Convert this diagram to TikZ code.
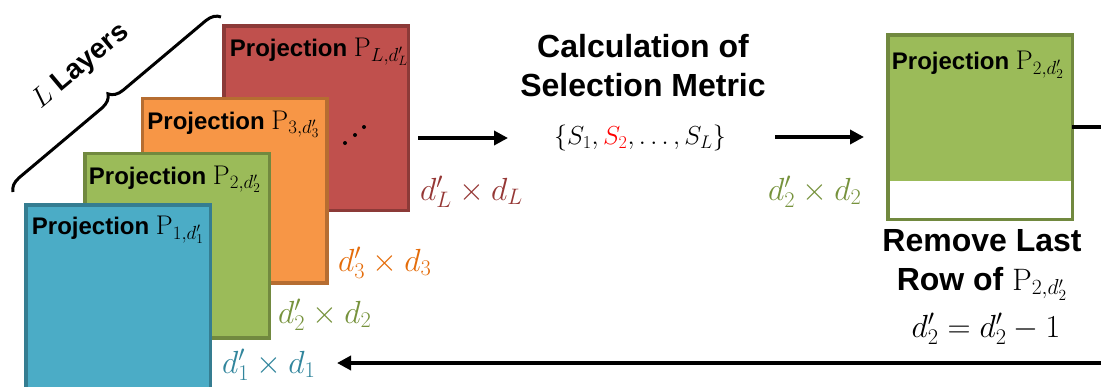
\RequirePackage{fix-cm}
\documentclass[tikz,border=0pt]{standalone}
\usepackage{fontspec}
\newfontfamily\arial{Liberation Sans}
\usetikzlibrary{arrows.meta,decorations.pathreplacing,calc}
\definecolor{bfill}{HTML}{4BACC6}\definecolor{bdraw}{HTML}{357D91}\definecolor{btxt}{HTML}{31859C}
\definecolor{gfill}{HTML}{9BBB59}\definecolor{gdraw}{HTML}{71893F}\definecolor{gtxt}{HTML}{76923C}
\definecolor{ofill}{HTML}{F79646}\definecolor{odraw}{HTML}{B66D31}\definecolor{otxt}{HTML}{E46C0A}
\definecolor{rfill}{HTML}{C0504D}\definecolor{rdraw}{HTML}{8C3A38}\definecolor{rtxt}{HTML}{953735}
\newcommand\mth[1]{{\fontsize{27}{30}\selectfont$#1$}}
\newcommand\mthb[1]{{\fontsize{31}{34}\selectfont$#1$}}
\begin{document}
\begin{tikzpicture}[x=1pt,y=-1pt,
 box/.style={draw, line width=3.5pt, minimum width=184.5pt, minimum height=184.5pt, inner sep=0pt, outer sep=0pt},
 ttl/.style={anchor=base west, inner sep=0pt, font=\arial\bfseries\fontsize{24}{28}\selectfont},
 dim/.style={anchor=west, inner sep=0pt, font=\fontsize{32}{36}\selectfont},
 big/.style={font=\arial\bfseries\fontsize{32}{39}\selectfont, align=center, inner sep=0pt},
 arr/.style={line width=4pt, -{Triangle[length=14pt,width=14pt]}},
]
\useasboundingbox (0,0) rectangle (1101,386);
\begin{scope}
\clip (0,0) rectangle (1101,386);
% stacked projections
\node[box, fill=rfill, draw=rdraw] (bL) at (316,118) {};
\node[box, fill=ofill, draw=odraw] (b3) at (234.5,190.5) {};
\node[box, fill=gfill, draw=gdraw] (b2) at (177,245.5) {};
\node[box, fill=bfill, draw=bdraw] (b1) at (118,297) {};
\node[ttl] (tL) at ($(bL.north west)+(6,31)$) {Projection \mth{\mathrm{P}_{L,d'_L}}};
\node[ttl] (t3) at ($(b3.north west)+(5,31)$) {Projection \mth{\mathrm{P}_{3,d'_3}}};
\node[ttl] (t2) at ($(b2.north west)+(4,31)$) {Projection \mth{\mathrm{P}_{2,d'_2}}};
\node[ttl] (t1) at ($(b1.north west)+(6,30)$) {Projection \mth{\mathrm{P}_{1,d'_1}}};
\fill (345,143) circle (2pt) (355,135) circle (2pt) (364,127) circle (2pt);
% brace
\draw[line width=3pt, decorate, decoration={brace, amplitude=14pt}] (13,192) -- (221,17);
\node[rotate=40, inner sep=0pt, font=\arial\bfseries\fontsize{28}{30}\selectfont] (lay) at (81,67) {$L$ Layers};
% dimension labels
\node[dim, text=rtxt] (dL) at (420,192) {$d'_L\times d_L$};
\node[dim, text=otxt] (d3) at (338,263) {$d'_3\times d_3$};
\node[dim, text=gtxt] (d2) at (278,315) {$d'_2\times d_2$};
\node[dim, text=btxt] (d1) at (222,365) {$d'_1\times d_1$};
% metric
\node[big, anchor=north] (calc) at (643,34) {Calculation of\\Selection Metric};
\node[inner sep=0pt, font=\fontsize{26}{30}\selectfont] (set) at (640,138) {$\{S_1,{\color{red}S_2},\dots,S_L\}$};
\coordinate (a1s) at (418,138); \coordinate (a1e) at (508,138);
\draw[arr] (a1s) -- (a1e);
\coordinate (a2s) at (775,137); \coordinate (a2e) at (864,137);
\draw[arr] (a2s) -- (a2e);
% right projection
\node[box, fill=gfill, draw=gdraw] (g2) at (980,127) {};
\fill[white] ($(g2.south west)+(1.75,-1.75)$) rectangle ($(g2.south east)+(-1.75,-38.25)$);
\node[ttl] (tg) at ($(g2.north west)+(4,35)$) {Projection \mth{\mathrm{P}_{2,d'_2}}};
\node[dim, text=gtxt] (d2r) at (768,192) {$d'_2\times d_2$};
\node[big, anchor=north] (rem) at (982,229) {Remove Last\\Row of \mthb{\mathrm{P}_{2,d'_2}}};
\node[anchor=base, inner sep=0pt, font=\fontsize{32}{36}\selectfont] (upd) at (986,337) {$d'_2=d'_2-1$};
% return
\coordinate (ret) at (337,363);
\draw[arr] (g2.east) -- (1140,127) |- (ret);
\end{scope}
\end{tikzpicture}
\end{document}
